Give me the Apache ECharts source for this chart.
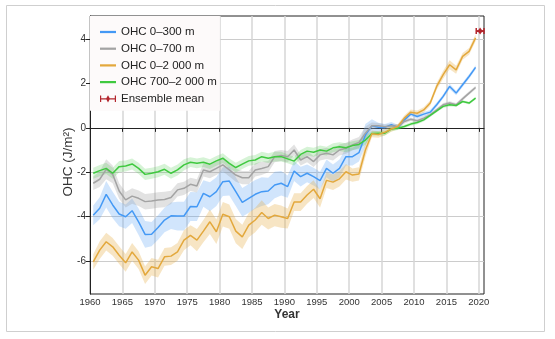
<!DOCTYPE html>
<html><head><meta charset="utf-8">
<script src="https://cdn.jsdelivr.net/npm/echarts@6/dist/echarts.min.js"></script>
<style>html,body{margin:0;padding:0;background:#fff}#c{width:555px;height:339px}</style>
</head><body><div id="c"></div>
<script>
// ---- data ----
const years = [1960,1961,1962,1963,1964,1965,1966,1967,1968,1969,1970,1971,1972,1973,1974,1975,1976,1977,1978,1979,1980,1981,1982,1983,1984,1985,1986,1987,1988,1989,1990,1991,1992,1993,1994,1995,1996,1997,1998,1999,2000,2001,2002,2003,2004,2005,2006,2007,2008,2009,2010,2011,2012,2013,2014,2015,2016,2017,2018,2019];
const ohc0_300 = [-3.95,-3.63,-3.0,-3.48,-3.89,-4.01,-3.74,-4.24,-4.81,-4.8,-4.5,-4.16,-3.97,-3.98,-3.98,-3.55,-3.56,-2.96,-3.11,-2.88,-2.43,-2.4,-2.88,-3.36,-3.18,-3.0,-2.88,-2.85,-2.58,-2.5,-2.65,-1.95,-2.2,-2.05,-2.2,-2.38,-1.83,-2.05,-1.83,-1.3,-1.3,-1.12,-0.32,0.09,0.03,0.02,0.14,0.02,0.36,0.62,0.51,0.62,0.71,1.04,1.42,1.87,1.57,1.95,2.32,2.73];
const ohc0_700 = [-2.5,-2.32,-1.87,-2.1,-2.85,-3.25,-3.08,-3.18,-3.33,-3.3,-3.26,-3.23,-3.14,-2.8,-2.73,-2.55,-2.62,-1.9,-1.98,-1.83,-1.67,-1.9,-2.13,-2.25,-2.25,-1.9,-1.83,-1.75,-1.3,-1.25,-1.3,-1.0,-1.45,-1.3,-1.52,-1.22,-1.15,-1.22,-1.0,-0.92,-0.77,-0.66,-0.24,0.09,0.1,0.05,0.09,0.06,0.29,0.39,0.32,0.44,0.59,0.81,1.04,1.12,1.04,1.31,1.57,1.82];
const ohc0_2000 = [-6.05,-5.52,-5.14,-5.37,-5.75,-6.09,-5.6,-5.97,-6.65,-6.27,-6.35,-5.82,-5.79,-5.6,-5.07,-4.85,-5.07,-4.66,-4.24,-4.69,-3.9,-4.01,-4.66,-4.92,-4.39,-4.16,-3.82,-4.09,-3.94,-4.01,-4.09,-3.35,-3.35,-3.03,-2.77,-3.2,-2.37,-2.45,-2.3,-1.98,-2.13,-2.08,-1.0,-0.27,-0.3,-0.2,-0.05,0.06,0.44,0.71,0.66,0.81,1.12,1.87,2.4,2.85,2.62,3.23,3.45,4.06];
const ohc700_2000 = [-2.05,-1.93,-1.83,-2.05,-1.75,-1.72,-1.63,-1.83,-2.1,-2.05,-1.98,-1.87,-2.05,-1.9,-1.67,-1.55,-1.6,-1.55,-1.64,-1.49,-1.37,-1.6,-1.79,-1.64,-1.49,-1.45,-1.3,-1.37,-1.3,-1.3,-1.4,-1.5,-1.2,-1.05,-1.1,-1.0,-1.05,-0.9,-0.85,-0.9,-0.8,-0.75,-0.55,-0.25,-0.24,-0.24,-0.05,-0.02,0.06,0.17,0.24,0.36,0.56,0.77,0.97,1.04,1.01,1.19,1.12,1.34];
// uncertainty half-widths
const unc0_300 = [0.45,0.5,0.6,0.6,0.55,0.55,0.55,0.6,0.6,0.55,0.55,0.55,0.6,0.65,0.65,0.65,0.65,0.6,0.65,0.65,0.65,0.65,0.65,0.65,0.65,0.65,0.65,0.6,0.6,0.55,0.5,0.45,0.45,0.4,0.4,0.4,0.4,0.4,0.4,0.4,0.4,0.4,0.5,0.3,0.2,0.15,0.12,0.12,0.12,0.1,0.1,0.1,0.1,0.1,0.1,0.12,0.1,0.1,0.1,0.1];
const unc0_700 = [0.3,0.35,0.45,0.4,0.35,0.35,0.35,0.35,0.35,0.35,0.35,0.35,0.3,0.3,0.3,0.3,0.3,0.3,0.3,0.3,0.3,0.3,0.3,0.3,0.3,0.3,0.3,0.25,0.25,0.25,0.25,0.25,0.25,0.25,0.25,0.25,0.25,0.25,0.25,0.25,0.25,0.25,0.3,0.15,0.12,0.1,0.1,0.1,0.1,0.08,0.08,0.08,0.08,0.08,0.08,0.08,0.08,0.08,0.08,0.08];
const unc0_2000 = [0.35,0.4,0.4,0.4,0.4,0.4,0.4,0.4,0.4,0.4,0.4,0.4,0.4,0.4,0.45,0.45,0.5,0.5,0.55,0.55,0.55,0.55,0.55,0.55,0.55,0.55,0.55,0.5,0.5,0.5,0.45,0.4,0.4,0.4,0.4,0.4,0.35,0.35,0.35,0.35,0.3,0.3,0.3,0.15,0.15,0.15,0.12,0.12,0.12,0.12,0.12,0.12,0.12,0.15,0.18,0.2,0.18,0.15,0.15,0.15];
const unc700_2000 = [0.25,0.25,0.25,0.25,0.25,0.25,0.25,0.25,0.25,0.25,0.25,0.25,0.25,0.25,0.25,0.22,0.22,0.22,0.22,0.22,0.22,0.22,0.22,0.22,0.22,0.22,0.22,0.22,0.22,0.22,0.2,0.2,0.2,0.2,0.2,0.2,0.2,0.2,0.2,0.2,0.2,0.2,0.2,0.1,0.1,0.1,0.1,0.08,0.08,0.08,0.08,0.07,0.07,0.07,0.07,0.07,0.06,0.06,0.06,0.06];
const ensembleYear = 2020.2;
const ensembleValue = 4.37;
const ensembleRange = [2019.6, 2020.8];
const seriesNames = ['OHC 0–300 m','OHC 0–700 m','OHC 0–2 000 m','OHC 700–2 000 m'];
const ensembleName = 'Ensemble mean';
const xTickLabels = [1960,1965,1970,1975,1980,1985,1990,1995,2000,2005,2010,2015,2020];
const yTickLabels = [-6,-4,-2,0,2,4];

// ---- styles ----
const lineColors = ['#4499f5','#a3a3a3','#e3a83c','#3fc93f'];
const bandColors = ['rgba(70,150,245,0.25)','rgba(150,150,150,0.28)','rgba(230,170,60,0.3)','rgba(70,200,70,0.22)'];
const ensColor = '#b3262d';
const FONT = 'Liberation Sans, Arial, sans-serif';

const values = [ohc0_300, ohc0_700, ohc0_2000, ohc700_2000];
const uncs = [unc0_300, unc0_700, unc0_2000, unc700_2000];

const series = [];
values.forEach((vals, k) => {
  const unc = uncs[k];
  const rows = years.map((y, i) => [y + 0.5, vals[i] - unc[i], vals[i] + unc[i]]);
  series.push({
    name: 'band_' + k, type: 'custom', silent: true, z: 1,
    data: rows,
    encode: { x: 0, y: [1, 2] },
    renderItem: function (params, api) {
      if (params.dataIndex !== 0) return null;
      const up = rows.map(r => api.coord([r[0], r[2]]));
      const lo = rows.map(r => api.coord([r[0], r[1]])).reverse();
      return { type: 'polygon', shape: { points: up.concat(lo) }, style: { fill: bandColors[k] } };
    }
  });
});
values.forEach((vals, k) => {
  series.push({
    name: seriesNames[k], type: 'line', symbol: 'none',
    data: years.map((y, i) => [y + 0.5, vals[i]]),
    lineStyle: { color: lineColors[k], width: 1.5 }, itemStyle: { color: lineColors[k] },
    z: 3 + (k === 2 ? 1 : 0)
  });
});
series.push({
  name: ensembleName, type: 'custom', z: 6, clip: false,
  itemStyle: { color: ensColor },
  data: [[ensembleYear, ensembleValue, ensembleRange[0], ensembleRange[1]]],
  encode: { x: [0, 2, 3], y: 1 },
  renderItem: function (params, api) {
    const c = api.coord([api.value(0), api.value(1)]);
    const l = api.coord([api.value(2), api.value(1)]);
    const r = api.coord([api.value(3), api.value(1)]);
    const h = 3;
    return { type: 'group', children: [
      { type: 'line', shape: { x1: l[0], y1: c[1], x2: r[0], y2: c[1] }, style: { stroke: ensColor, lineWidth: 2 } },
      { type: 'line', shape: { x1: l[0], y1: c[1] - h, x2: l[0], y2: c[1] + h }, style: { stroke: ensColor, lineWidth: 1.5 } },
      { type: 'line', shape: { x1: r[0], y1: c[1] - h, x2: r[0], y2: c[1] + h }, style: { stroke: ensColor, lineWidth: 1.5 } },
      { type: 'polygon', shape: { points: [[c[0], c[1] - 3.5], [c[0] + 2.5, c[1]], [c[0], c[1] + 3.5], [c[0] - 2.5, c[1]]] }, style: { fill: ensColor } }
    ]};
  }
});

const lineIcon = 'path://M0,0M0,10M0,3.6H20V6.4H0Z';
const chart = echarts.init(document.getElementById('c'), null, { renderer: 'canvas' });
chart.setOption({
  animation: false,
  backgroundColor: '#fff',
  textStyle: { fontFamily: FONT },
  graphic: [{
    type: 'rect', shape: { x: 6.5, y: 5.5, width: 538, height: 326 },
    style: { fill: 'none', stroke: '#cfcfcf', lineWidth: 1 }, z: -10, silent: true
  }],
  grid: { left: 90, right: 71, top: 16, bottom: 45, show: true, borderColor: '#222', borderWidth: 1, backgroundColor: 'transparent' },
  legend: {
    orient: 'vertical', left: 90, top: 16,
    data: seriesNames.map(n => ({ name: n, icon: lineIcon })).concat([{ name: ensembleName,
      icon: 'path://M0,4.2H20V5.8H0Z M0,1H1.5V9H0Z M18.5,1H20V9H18.5Z M10,0.5L12.5,5L10,9.5L7.5,5Z' }]),
    itemWidth: 16, itemHeight: 10, itemGap: 4.7,
    padding: [10, 3, 6, 10],
    backgroundColor: '#fdfafa',
    selectedMode: false,
    textStyle: { fontSize: 11.5, color: '#222', fontFamily: FONT },
    z: 10
  },
  xAxis: {
    type: 'value', min: 1960, max: 2020.8, interval: 5,
    name: 'Year', nameLocation: 'middle', nameGap: 15, nameMoveOverlap: false,
    nameTextStyle: { fontSize: 12, fontWeight: 'bold', color: '#333', fontFamily: FONT },
    axisLine: { show: true, lineStyle: { color: '#222', width: 1 } },
    axisTick: { show: true, length: 4, lineStyle: { color: '#222' }, customValues: xTickLabels },
    axisLabel: { fontSize: 9.5, color: '#333', margin: 3, customValues: xTickLabels, formatter: v => String(v) },
    splitLine: { show: true, lineStyle: { color: '#d6d6d6', width: 1.5 } }
  },
  yAxis: {
    type: 'value', min: -7.5, max: 5.05, splitNumber: 6,
    name: 'OHC (J/m²)', nameLocation: 'middle', nameGap: 15, nameMoveOverlap: false,
    nameTextStyle: { fontSize: 13.5, color: '#333', fontFamily: FONT, padding: [0, 14, 0, 0] },
    axisLine: { show: true, lineStyle: { color: '#222', width: 1 } },
    axisTick: { show: true, length: 4, lineStyle: { color: '#222' }, customValues: yTickLabels },
    axisLabel: { fontSize: 10, color: '#333', margin: 4, customValues: yTickLabels },
    splitLine: { show: true, lineStyle: { color: '#cccccc', width: 1 } }
  },
  series: series
});
</script></body></html>
